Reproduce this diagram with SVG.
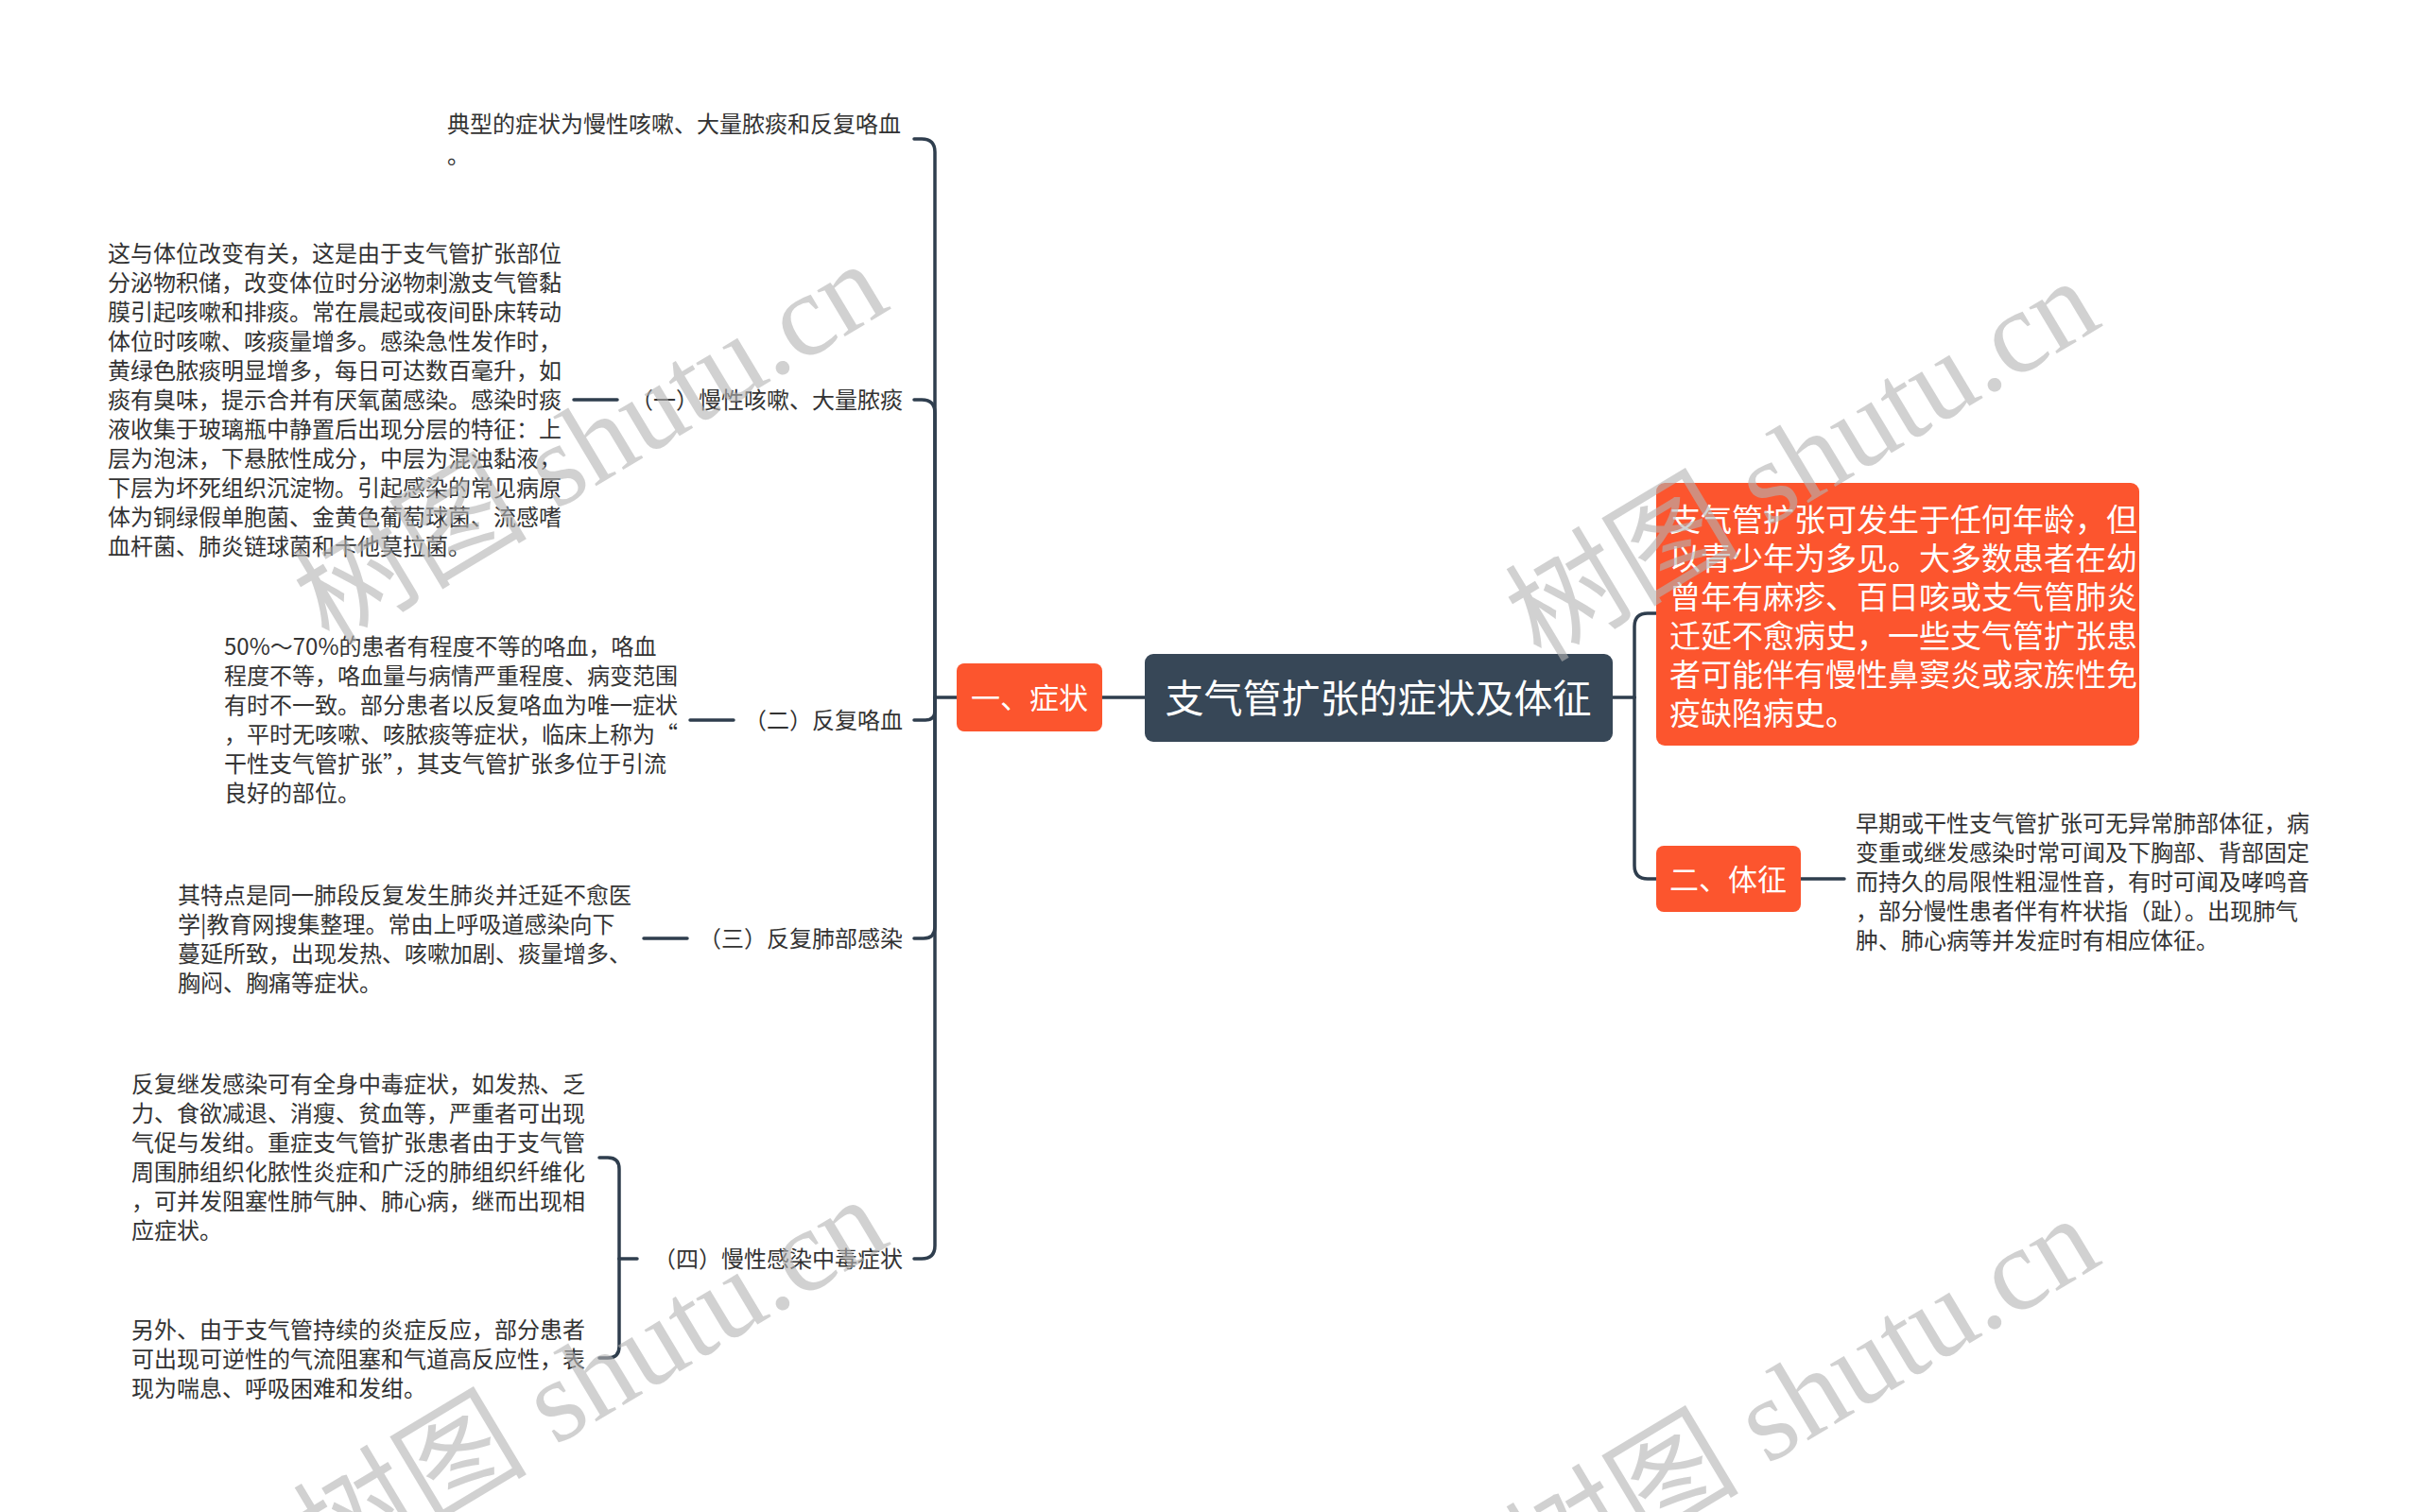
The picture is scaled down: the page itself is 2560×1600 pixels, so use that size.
<svg xmlns="http://www.w3.org/2000/svg" width="2560" height="1600" viewBox="0 0 2560 1600">
<style>
.t{font-family:"Noto Sans CJK SC","Noto Sans",sans-serif;font-size:24px;fill:#333333}
.lbl{font-family:"Noto Sans CJK SC","Noto Sans",sans-serif;font-size:24px;fill:#333333;text-anchor:end}
.w{font-family:"Noto Sans CJK SC","Noto Sans",sans-serif;fill:#ffffff}
.c{fill:none;stroke:#2f3e4e;stroke-width:3.5;stroke-linecap:round;stroke-linejoin:round}
.or{fill:#fc552e}
.wm{font-family:"Liberation Serif","Noto Sans CJK SC",serif;font-size:124px;fill:#b4b4b4;opacity:0.6}
</style>
<rect width="2560" height="1600" fill="#ffffff"/>
<g id="connectors">
  <path class="c" d="M1706,738 H1729"/>
  <path class="c" d="M1729,738 V663 Q1729,649 1743,649 H1752"/>
  <path class="c" d="M1729,738 V916 Q1729,930 1743,930 H1752"/>
  <path class="c" d="M1905,930 H1951"/>
  <path class="c" d="M1211,738 H1166"/>
  <path class="c" d="M1012,738 H989"/>
  <path class="c" d="M989,738 V161 Q989,147 975,147 H967"/>
  <path class="c" d="M989,738 V437 Q989,423 975,423 H967"/>
  <path class="c" d="M989,738 V752 Q989,762 979,762 H967"/>
  <path class="c" d="M989,738 V981 Q989,993 977,993 H967"/>
  <path class="c" d="M989,738 V1318 Q989,1332 975,1332 H967"/>
  <path class="c" d="M607,423 H653"/>
  <path class="c" d="M730,762 H776"/>
  <path class="c" d="M681,993 H727"/>
  <path class="c" d="M674,1332 H655"/>
  <path class="c" d="M655,1332 V1237 Q655,1225 643,1225 H634"/>
  <path class="c" d="M655,1332 V1425 Q655,1437 643,1437 H634"/>
</g>
<g id="root">
  <rect x="1211" y="692" width="495" height="93" rx="9" fill="#374757"/>
  <text class="w" x="1458" y="754" font-size="41" text-anchor="middle">支气管扩张的症状及体征</text>
</g>
<g id="n-symptoms">
  <rect class="or" x="1012" y="702" width="154" height="72" rx="8"/>
  <text class="w" x="1089" y="750" font-size="31" text-anchor="middle">一、症状</text>
</g>
<g id="n-history">
  <rect class="or" x="1752" y="511" width="511" height="278" rx="9"/>
  <text class="w" font-size="33">
    <tspan x="1766" y="562">支气管扩张可发生于任何年龄，但</tspan>
    <tspan x="1766" y="603">以青少年为多见。大多数患者在幼</tspan>
    <tspan x="1766" y="644">曾年有麻疹、百日咳或支气管肺炎</tspan>
    <tspan x="1766" y="685">迁延不愈病史，一些支气管扩张患</tspan>
    <tspan x="1766" y="726">者可能伴有慢性鼻窦炎或家族性免</tspan>
    <tspan x="1766" y="767">疫缺陷病史。</tspan>
  </text>
</g>
<g id="n-signs">
  <rect class="or" x="1752" y="895" width="153" height="70" rx="8"/>
  <text class="w" x="1828" y="942" font-size="31" text-anchor="middle">二、体征</text>
</g>
<g id="n-signs-text">
  <text class="t">
    <tspan x="1963" y="880">早期或干性支气管扩张可无异常肺部体征，病</tspan>
    <tspan x="1963" y="911">变重或继发感染时常可闻及下胸部、背部固定</tspan>
    <tspan x="1963" y="942">而持久的局限性粗湿性音，有时可闻及哮鸣音</tspan>
    <tspan x="1963" y="973">，部分慢性患者伴有杵状指（趾）。出现肺气</tspan>
    <tspan x="1963" y="1004">肿、肺心病等并发症时有相应体征。</tspan>
  </text>
</g>
<g id="n-typical">
  <text class="t">
    <tspan x="473" y="140">典型的症状为慢性咳嗽、大量脓痰和反复咯血</tspan>
    <tspan x="473" y="173">。</tspan>
  </text>
</g>
<g id="n-cough">
  <text class="lbl" x="955" y="432">（一）慢性咳嗽、大量脓痰</text>
</g>
<g id="n-cough-text">
  <text class="t">
    <tspan x="114" y="277">这与体位改变有关，这是由于支气管扩张部位</tspan>
    <tspan x="114" y="308">分泌物积储，改变体位时分泌物刺激支气管黏</tspan>
    <tspan x="114" y="339">膜引起咳嗽和排痰。常在晨起或夜间卧床转动</tspan>
    <tspan x="114" y="370">体位时咳嗽、咳痰量增多。感染急性发作时，</tspan>
    <tspan x="114" y="401">黄绿色脓痰明显增多，每日可达数百毫升，如</tspan>
    <tspan x="114" y="432">痰有臭味，提示合并有厌氧菌感染。感染时痰</tspan>
    <tspan x="114" y="463">液收集于玻璃瓶中静置后出现分层的特征：上</tspan>
    <tspan x="114" y="494">层为泡沫，下悬脓性成分，中层为混浊黏液，</tspan>
    <tspan x="114" y="525">下层为坏死组织沉淀物。引起感染的常见病原</tspan>
    <tspan x="114" y="556">体为铜绿假单胞菌、金黄色葡萄球菌、流感嗜</tspan>
    <tspan x="114" y="587">血杆菌、肺炎链球菌和卡他莫拉菌。</tspan>
  </text>
</g>
<g id="n-hemoptysis">
  <text class="lbl" x="955" y="771">（二）反复咯血</text>
</g>
<g id="n-hemoptysis-text">
  <text class="t">
    <tspan x="237" y="693">50%～70%的患者有程度不等的咯血，咯血</tspan>
    <tspan x="237" y="724">程度不等，咯血量与病情严重程度、病变范围</tspan>
    <tspan x="237" y="755">有时不一致。部分患者以反复咯血为唯一症状</tspan>
    <tspan x="237" y="786">，平时无咳嗽、咳脓痰等症状，临床上称为“</tspan>
    <tspan x="237" y="817">干性支气管扩张”，其支气管扩张多位于引流</tspan>
    <tspan x="237" y="848">良好的部位。</tspan>
  </text>
</g>
<g id="n-infection">
  <text class="lbl" x="955" y="1002">（三）反复肺部感染</text>
</g>
<g id="n-infection-text">
  <text class="t">
    <tspan x="188" y="956">其特点是同一肺段反复发生肺炎并迁延不愈医</tspan>
    <tspan x="188" y="987">学|教育网搜集整理。常由上呼吸道感染向下</tspan>
    <tspan x="188" y="1018">蔓延所致，出现发热、咳嗽加剧、痰量增多、</tspan>
    <tspan x="188" y="1049">胸闷、胸痛等症状。</tspan>
  </text>
</g>
<g id="n-toxic">
  <text class="lbl" x="955" y="1341">（四）慢性感染中毒症状</text>
</g>
<g id="n-toxic-text1">
  <text class="t">
    <tspan x="139" y="1156">反复继发感染可有全身中毒症状，如发热、乏</tspan>
    <tspan x="139" y="1187">力、食欲减退、消瘦、贫血等，严重者可出现</tspan>
    <tspan x="139" y="1218">气促与发绀。重症支气管扩张患者由于支气管</tspan>
    <tspan x="139" y="1249">周围肺组织化脓性炎症和广泛的肺组织纤维化</tspan>
    <tspan x="139" y="1280">，可并发阻塞性肺气肿、肺心病，继而出现相</tspan>
    <tspan x="139" y="1311">应症状。</tspan>
  </text>
</g>
<g id="n-toxic-text2">
  <text class="t">
    <tspan x="139" y="1416">另外、由于支气管持续的炎症反应，部分患者</tspan>
    <tspan x="139" y="1447">可出现可逆性的气流阻塞和气道高反应性，表</tspan>
    <tspan x="139" y="1478">现为喘息、呼吸困难和发绀。</tspan>
  </text>
</g>
<g id="watermarks">
  <text class="wm" transform="translate(348,684) rotate(-31)">树图 shutu.cn</text>
  <text class="wm" transform="translate(1630,702) rotate(-31)">树图 shutu.cn</text>
  <text class="wm" transform="translate(348,1674) rotate(-31)">树图 shutu.cn</text>
  <text class="wm" transform="translate(1630,1694) rotate(-31)">树图 shutu.cn</text>
</g>
</svg>
